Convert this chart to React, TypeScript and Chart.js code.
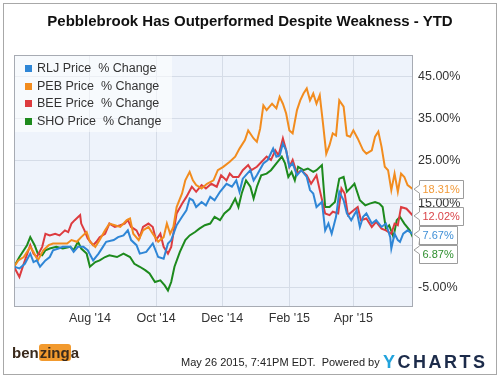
import React, { useEffect, useRef } from "react";
import { Chart, registerables } from "chart.js";
Chart.register(...registerables);

const FONT = "'Liberation Sans', Arial, Helvetica, sans-serif";

// x values are calendar days since May 23, 2014
const tickDays = [70, 131, 192, 254, 313];
const tickLabels = ["Aug '14", "Oct '14", "Dec '14", "Feb '15", "Apr '15"];
const yTicks = [-5, 5, 15, 25, 35, 45];

const seriesNames = ["RLJ Price  % Change", "PEB Price  % Change", "BEE Price  % Change", "SHO Price  % Change"];
const lineColors = ["#2f86d6", "#f28c1e", "#dd3b3f", "#1d8a1d"];
const labelColors = ["#3f8fd6", "#f29a38", "#d9454a", "#2f8f2f"];

const rljDays = [0,5,10,15,18,21,24,29,33,36,41,45,52,55,59,64,68,73,78,82,85,92,96,101,105,108,113,116,122,128,133,138,142,145,150,155,159,162,165,168,173,177,181,185,190,196,201,205,208,211,218,221,224,230,234,239,242,245,248,251,254,257,261,265,270,273,276,279,284,287,290,293,297,300,304,307,311,316,319,322,325,330,334,339,343,347,348,351,354,356,359,363,368];
const rljPct = [0,-0.4,0.7,3.1,1.1,1.5,0.0,1.5,2.3,3.9,4.3,4.7,4.7,3.5,4.7,4.7,3.9,1.5,3.1,4.7,5.9,6.3,7.0,7.4,8.6,6.3,5.1,3.1,3.5,5.5,2.3,1.9,5.5,6.3,9.8,11.8,13.3,16.1,15.7,14.1,15.3,14.5,16.5,15.7,17.7,19.6,18.9,20.4,17.7,20.8,22.8,20.4,21.6,24.4,25.2,27.9,26.0,26.3,29.1,27.5,23.6,24.4,21.6,22.8,21.2,18.1,17.3,14.1,15.3,8.6,10.2,7.8,11.8,17.7,15.7,12.6,11.0,13.3,9.4,11.8,12.6,10.2,11.0,9.4,10.2,7.0,4.3,7.8,6.3,5.9,7.8,8.6,7.67];

const pebDays = [0,4,9,15,18,22,27,32,36,42,49,53,58,62,67,70,75,79,84,88,93,98,104,107,110,115,119,124,128,133,138,141,144,147,150,155,158,162,165,168,173,178,184,188,193,199,204,208,213,216,221,224,227,230,233,238,242,245,248,251,254,257,261,264,267,270,273,276,279,282,285,288,291,294,297,300,304,307,310,313,317,322,325,330,333,336,339,342,345,348,351,354,357,360,363,368];
const pebPct = [0,1.5,2.3,4.7,3.5,1.5,3.9,5.1,5.5,5.5,5.5,6.3,5.9,7.0,8.2,5.9,4.7,6.3,8.6,10.2,9.8,9.4,11.0,11.4,7.8,6.3,8.6,9.4,7.8,5.9,7.0,10.2,7.8,9.4,14.1,17.3,20.4,22.4,20.4,19.3,18.5,19.6,20.4,22.8,23.6,24.8,26.0,27.9,29.9,32.2,30.3,29.5,32.6,38.1,37.0,38.5,37.4,40.1,38.5,36.2,32.2,31.5,37.0,39.3,40.9,42.1,39.3,40.9,38.5,40.5,33.8,26.7,28.7,31.5,31.0,39.3,37.8,31.0,30.7,32.2,30.3,27.5,26.7,27.5,30.7,31.9,28.3,23.6,22.8,18.1,22.0,17.7,22.0,21.2,19.3,18.31];

const beeDays = [0,5,9,15,18,21,26,29,33,38,42,47,50,53,56,61,62,65,68,73,76,79,84,88,93,98,102,105,108,113,116,119,124,128,131,135,138,142,145,150,155,159,164,168,173,177,182,187,191,196,199,202,207,211,216,219,224,230,233,237,241,244,248,251,254,257,261,265,270,274,279,282,287,291,294,299,302,305,308,313,317,320,325,330,334,339,343,348,351,354,357,362,368];
const beePct = [0,-2.4,0.7,5.1,3.1,2.3,4.7,7.8,7.4,7.8,7.4,8.6,8.2,10.2,11.0,12.2,10.2,8.6,6.7,5.1,5.9,7.0,7.8,10.2,9.4,9.8,10.2,11.0,9.4,8.6,7.0,9.4,10.2,9.4,6.3,7.8,4.7,3.1,4.7,12.6,14.9,16.5,18.9,17.7,19.3,18.5,19.6,18.9,21.6,20.4,22.0,21.2,21.2,22.8,24.0,22.8,23.6,25.2,26.0,25.2,27.5,26.3,30.3,27.5,23.6,25.2,22.0,22.8,21.6,19.6,21.6,18.1,12.6,12.2,13.0,12.6,18.5,17.3,12.2,13.3,14.1,11.0,11.4,9.4,10.6,9.0,8.6,7.8,10.2,9.8,14.1,13.7,12.02];

const shoDays = [0,5,12,15,19,22,26,29,33,39,45,52,55,59,62,67,70,75,79,84,88,95,101,107,111,116,121,125,130,135,139,142,145,148,153,158,162,167,171,176,181,185,190,194,199,204,207,210,214,218,221,224,228,233,237,242,247,250,253,256,259,262,267,271,276,279,284,287,291,296,300,304,307,310,314,319,324,328,333,337,340,343,346,350,353,356,360,365,368];
const shoPct = [0,2.3,5.1,7.0,5.1,3.1,2.7,3.9,4.3,4.7,4.3,4.7,3.9,5.9,4.3,3.1,0.0,1.1,1.5,2.3,2.7,2.3,3.1,2.3,0.7,0.0,-0.8,-1.6,-3.6,-3.2,-4.4,-5.6,-3.6,0.0,3.5,6.3,7.4,8.2,9.0,9.8,10.2,11.8,11.0,12.6,13.7,16.1,14.1,17.3,20.4,18.9,16.1,18.9,21.6,22.0,22.8,24.4,26.0,24.4,21.2,22.4,20.4,23.6,22.8,23.2,22.4,22.8,24.0,14.1,14.1,15.3,20.8,21.2,17.7,18.5,19.6,15.7,14.5,14.9,15.3,14.9,14.1,9.0,9.8,7.0,11.0,11.8,10.2,8.6,6.87];

const seriesDays = [rljDays, pebDays, beeDays, shoDays];
const seriesPct = [rljPct, pebPct, beePct, shoPct];

const plotBgPlugin = {
  id: "plotBg",
  beforeDraw(chart: any) {
    const { ctx, chartArea: a } = chart;
    ctx.save();
    ctx.fillStyle = "#eef3fb";
    ctx.fillRect(a.left, a.top, a.right - a.left, a.bottom - a.top);
    ctx.restore();
  },
};

const endLabelPlugin = {
  id: "endLabels",
  afterDraw(chart: any) {
    const { ctx, chartArea: a } = chart;
    ctx.save();
    ctx.strokeStyle = "#a7abb3";
    ctx.lineWidth = 1;
    ctx.strokeRect(a.left + 0.5, a.top + 0.5, a.right - a.left - 1, a.bottom - a.top - 1);
    const items = chart.data.datasets
      .map((ds: any, i: number) => {
        const meta = chart.getDatasetMeta(i);
        const pt = meta.data[meta.data.length - 1];
        const v = seriesPct[i][seriesPct[i].length - 1];
        return { y: pt.y, text: v.toFixed(2) + "%", color: labelColors[i] };
      })
      .sort((p: any, q: any) => p.y - q.y);
    ctx.font = "11px " + FONT;
    const h = 18;
    let prevBottom = -Infinity;
    for (const it of items) {
      const top = Math.round(Math.max(it.y - h / 2, prevBottom + 1));
      const bottom = top + h;
      prevBottom = bottom;
      const left = Math.round(a.right) + 6;
      const right = Math.round(left + ctx.measureText(it.text).width + 7);
      const ty = Math.min(Math.max(it.y, top + 5), bottom - 5);
      ctx.beginPath();
      ctx.moveTo(left + 0.5, top + 0.5);
      ctx.lineTo(right + 0.5, top + 0.5);
      ctx.lineTo(right + 0.5, bottom + 0.5);
      ctx.lineTo(left + 0.5, bottom + 0.5);
      ctx.lineTo(left + 0.5, ty + 4);
      ctx.lineTo(a.right + 1, ty);
      ctx.lineTo(left + 0.5, ty - 4);
      ctx.closePath();
      ctx.fillStyle = "#ffffff";
      ctx.fill();
      ctx.strokeStyle = "#9c9c9c";
      ctx.stroke();
      ctx.fillStyle = it.color;
      ctx.textBaseline = "middle";
      ctx.textAlign = "left";
      ctx.fillText(it.text, left + 3.5, top + h / 2 + 1);
    }
    ctx.restore();
  },
};

export default function App() {
  const ref = useRef<HTMLCanvasElement | null>(null);

  useEffect(() => {
    document.body.style.margin = "0";
    if (!ref.current) return;
    const datasets = seriesNames.map((name, i) => ({
      label: name,
      data: seriesDays[i].map((d, k) => ({ x: d, y: seriesPct[i][k] })),
      borderColor: lineColors[i],
      backgroundColor: lineColors[i],
      borderWidth: 2,
      pointRadius: 0,
      tension: 0,
      fill: false,
    }));
    const chart = new Chart(ref.current, {
      type: "line",
      data: { datasets },
      plugins: [plotBgPlugin, endLabelPlugin],
      options: {
        animation: false,
        responsive: false,
        layout: { padding: { left: 14, top: 55, right: 0, bottom: 0 } },
        plugins: { legend: { display: false }, tooltip: { enabled: false }, title: { display: false } },
        scales: {
          x: {
            type: "linear",
            min: 0,
            max: 368,
            afterBuildTicks: (s: any) => {
              s.ticks = tickDays.map((v) => ({ value: v }));
            },
            afterFit: (s: any) => {
              s.height = 71;
            },
            ticks: {
              autoSkip: false,
              maxRotation: 0,
              padding: 4,
              color: "#333333",
              font: { family: FONT, size: 12.5 },
              callback: (v: any) => {
                const idx = tickDays.indexOf(Number(v));
                return idx >= 0 ? tickLabels[idx] : "";
              },
            },
            grid: { color: "#d5dce7", drawTicks: false },
            border: { display: false },
          },
          y: {
            type: "linear",
            position: "right",
            min: -9.5,
            max: 50,
            afterBuildTicks: (s: any) => {
              s.ticks = yTicks.map((v) => ({ value: v }));
            },
            afterFit: (s: any) => {
              s.width = 87;
            },
            ticks: {
              padding: 5,
              color: "#333333",
              font: { family: FONT, size: 12.5 },
              callback: (v: any) => Number(v).toFixed(2) + "%",
            },
            grid: { color: "#d5dce7", drawTicks: false },
            border: { display: false },
          },
        },
      },
    });
    return () => chart.destroy();
  }, []);

  const legendTops = [60, 77.6, 95.2, 112.8];

  return (
    <div style={{ position: "relative", width: 500, height: 378, background: "#ffffff", fontFamily: FONT, overflow: "hidden" }}>
      <canvas ref={ref} width={500} height={378} style={{ position: "absolute", left: 0, top: 0 }} />
      <div style={{ position: "absolute", left: 3, top: 3, width: 492, height: 370, border: "1px solid #a8a8a8", pointerEvents: "none" }} />
      <div style={{ position: "absolute", left: 0, top: 11, width: 500, textAlign: "center", fontWeight: "bold", fontSize: 15, lineHeight: "20px", color: "#111111" }}>
        Pebblebrook Has Outperformed Despite Weakness - YTD
      </div>
      <div style={{ position: "absolute", left: 15, top: 56, width: 157, height: 76, background: "rgba(255,255,255,0.55)" }} />
      {seriesNames.map((n, i) => (
        <React.Fragment key={n}>
          <div style={{ position: "absolute", left: 25, top: legendTops[i] + 5, width: 7, height: 7, background: lineColors[i] }} />
          <div style={{ position: "absolute", left: 37, top: legendTops[i], fontSize: 12.5, lineHeight: "17px", color: "#333333", whiteSpace: "pre" }}>{n}</div>
        </React.Fragment>
      ))}
      <div style={{ position: "absolute", left: 12, top: 344, fontWeight: "bold", fontSize: 15, lineHeight: "18px", color: "#3a2a1c", whiteSpace: "pre" }}>
        <span>ben</span>
        <span style={{ background: "#f29a2e", borderRadius: 3, padding: "0 1px", position: "relative" }}>zing</span>
        <span>a</span>
      </div>
      <div style={{ position: "absolute", left: 181, top: 355.5, fontSize: 11, lineHeight: "13px", color: "#222222", whiteSpace: "pre" }}>
        May 26 2015, 7:41PM EDT.  Powered by
      </div>
      <div style={{ position: "absolute", left: 383, top: 352, fontSize: 18, fontWeight: "bold", lineHeight: "20px", letterSpacing: 2.5, whiteSpace: "pre" }}>
        <span style={{ color: "#22a3dc" }}>Y</span>
        <span style={{ color: "#1c2b4a" }}>CHARTS</span>
      </div>
    </div>
  );
}
